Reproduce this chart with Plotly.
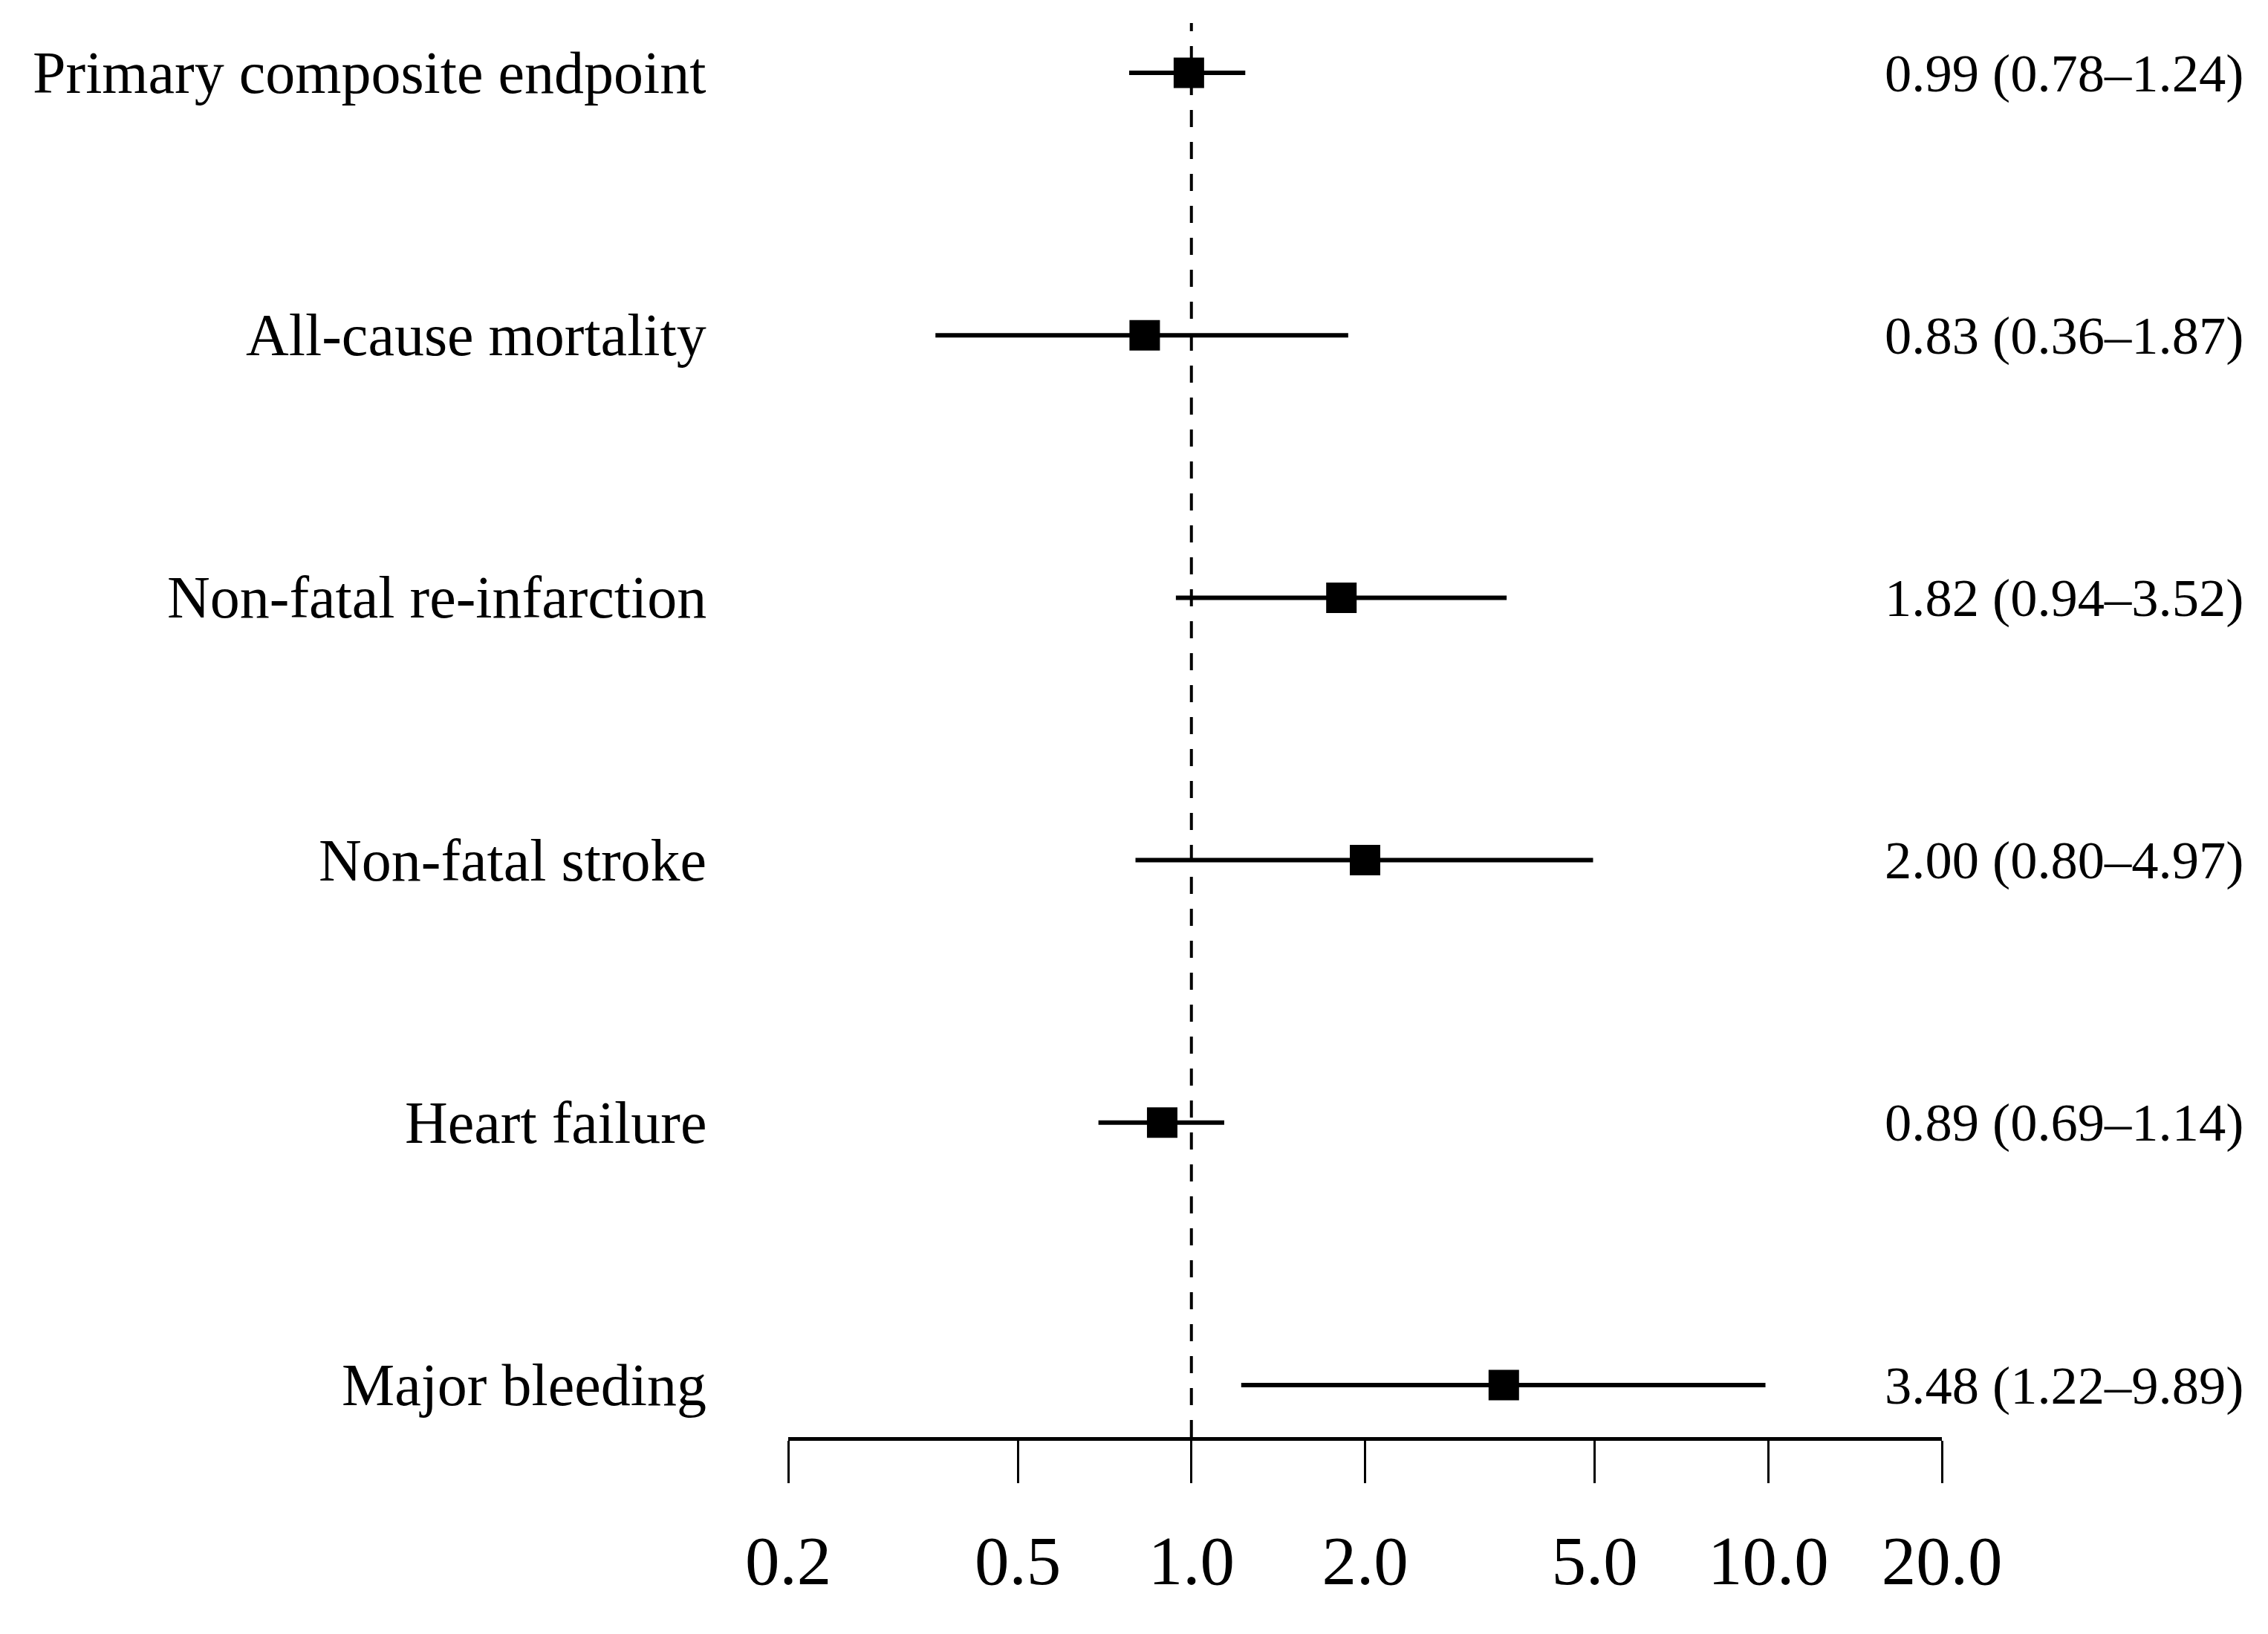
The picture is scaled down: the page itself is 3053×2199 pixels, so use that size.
import plotly.graph_objects as go
import numpy as np

# forest plot data (hazard ratio with 95% CI)
labels = ["Primary composite endpoint", "All-cause mortality", "Non-fatal re-infarction",
          "Non-fatal stroke", "Heart failure", "Major bleeding"]
hr = [0.99, 0.83, 1.82, 2.00, 0.89, 3.48]
ci_low = [0.78, 0.36, 0.94, 0.80, 0.69, 1.22]
ci_high = [1.24, 1.87, 3.52, 4.97, 1.14, 9.89]
tick_vals = [0.2, 0.5, 1.0, 2.0, 5.0, 10.0, 20.0]
tick_text = ["0.2", "0.5", "1.0", "2.0", "5.0", "10.0", "20.0"]

W, H = 3053, 2199
FONT = "Liberation Serif"
rows = list(range(len(labels)))

hr_a = np.array(hr)
err_plus = np.array(ci_high) - hr_a
err_minus = hr_a - np.array(ci_low)

fig = go.Figure()
fig.add_trace(go.Scatter(
    x=hr, y=rows, mode="markers",
    marker=dict(symbol="square", size=41, color="black"),
    error_x=dict(type="data", symmetric=False, array=err_plus, arrayminus=err_minus,
                 color="black", thickness=6, width=0),
    showlegend=False, hoverinfo="skip",
))

# reference line at HR = 1
fig.add_shape(type="line", xref="x", yref="paper", x0=1, x1=1, y0=0, y1=0.988,
              line=dict(color="black", width=4, dash="23px,20px"), layer="below")

plot_l, plot_r = 1053, 2606
axis_y = 1926
row_top, row_gap = 90, 353.2
pw = plot_r - plot_l

for i, lab in enumerate(labels):
    fig.add_annotation(x=(945 - plot_l) / pw, y=i, xref="paper", yref="y", text=lab,
                       showarrow=False, xanchor="right", yanchor="middle",
                       font=dict(family=FONT, size=80, color="black"))
    txt = f"{hr[i]:.2f} ({ci_low[i]:.2f}\u2013{ci_high[i]:.2f})"
    fig.add_annotation(x=(3014 - plot_l) / pw, y=i, xref="paper", yref="y", text=txt,
                       showarrow=False, xanchor="right", yanchor="middle",
                       font=dict(family=FONT, size=72.5, color="black"))

fig.update_layout(
    width=W, height=H,
    margin=dict(l=plot_l, r=W - plot_r, t=0, b=H - axis_y, pad=0),
    paper_bgcolor="white", plot_bgcolor="white",
    font=dict(family=FONT, color="black"),
)
fig.update_xaxes(
    type="log", range=[np.log10(0.2), np.log10(20)],
    tickvals=tick_vals, ticktext=tick_text,
    showgrid=False, zeroline=False,
    showline=True, linecolor="black", linewidth=5,
    ticks="outside", ticklen=57, tickwidth=2.5, tickcolor="black",
    ticklabelstandoff=24,
    tickfont=dict(family=FONT, size=93, color="black"),
)
fig.update_yaxes(
    range=[(axis_y - row_top) / row_gap, -row_top / row_gap],
    showgrid=False, zeroline=False, showline=False, showticklabels=False,
)

fig.write_html("out.html")
